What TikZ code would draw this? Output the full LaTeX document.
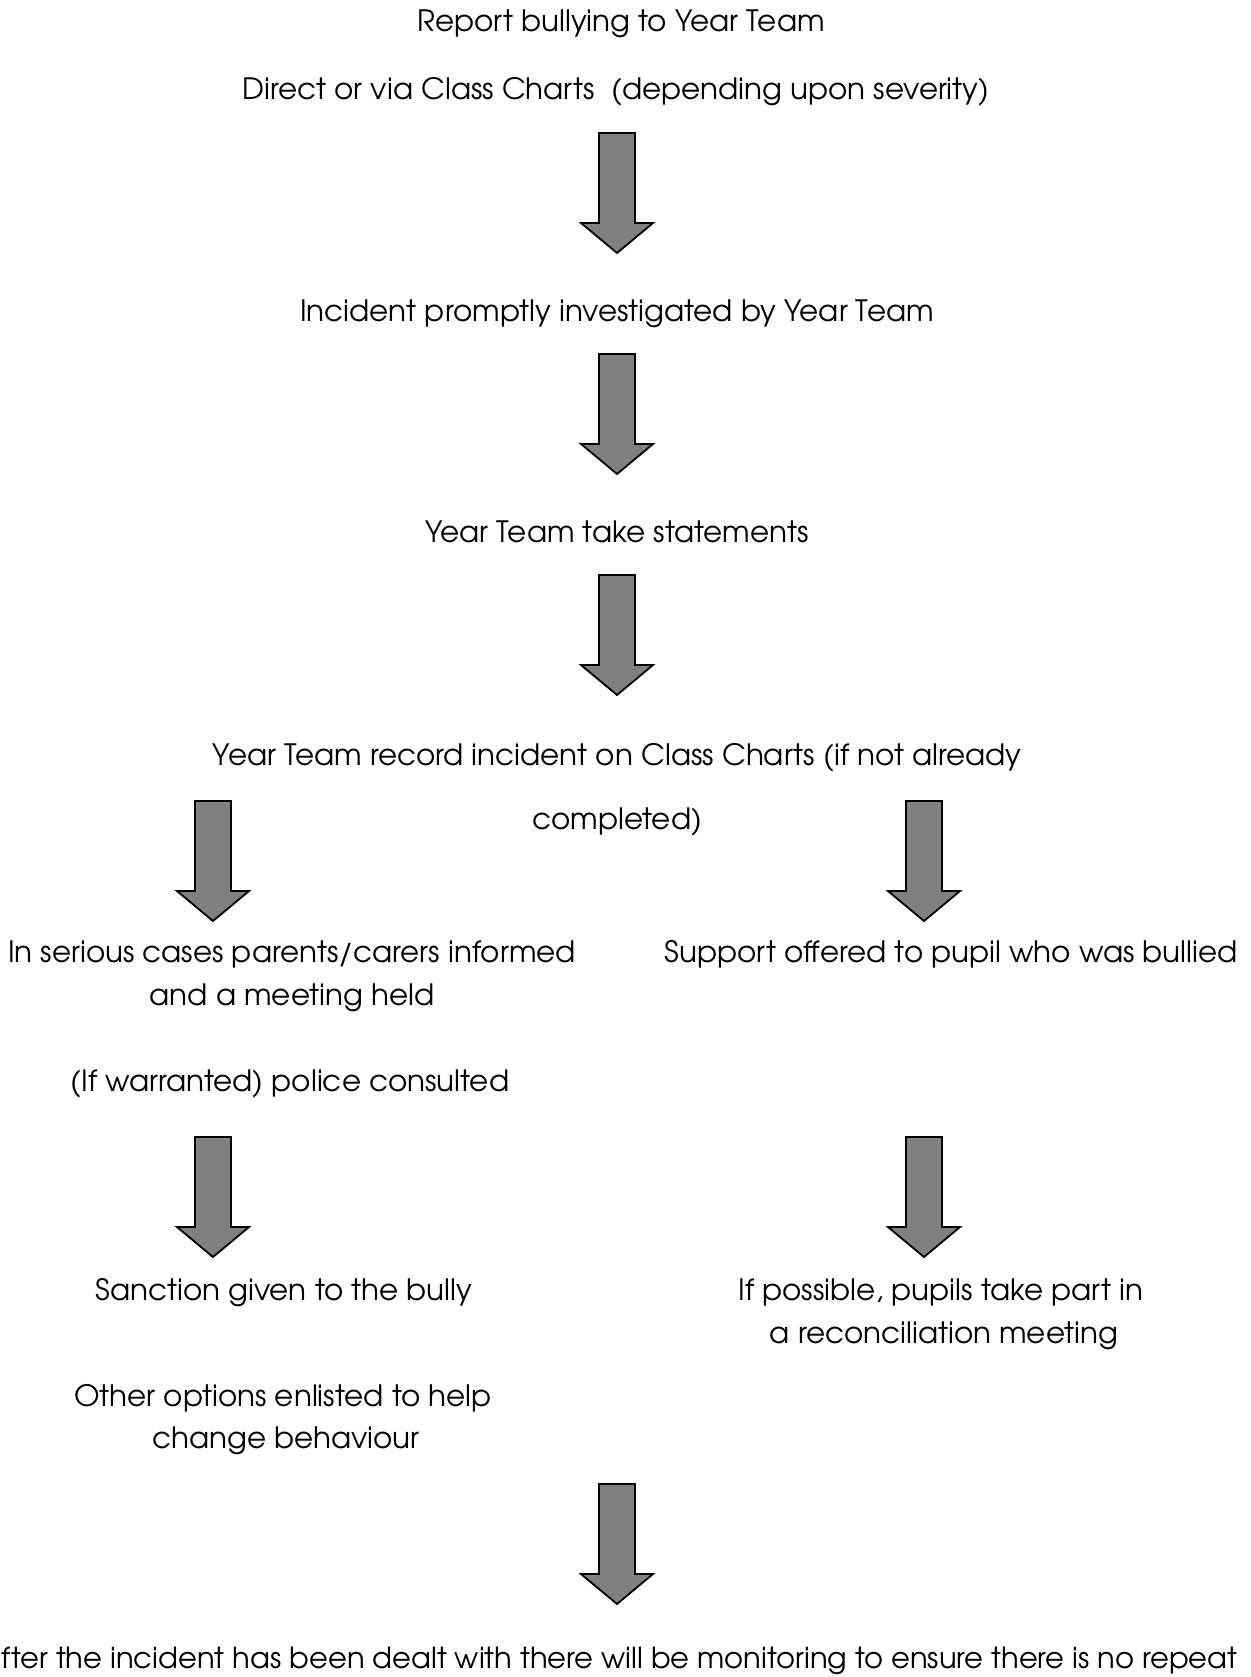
\documentclass[tikz,border=0pt]{standalone}
\usepackage{fontspec}
\setmainfont{TeX Gyre Adventor}
\begin{document}
\begin{tikzpicture}[x=1pt,y=-1pt,
  txt/.style={inner sep=0pt,font=\fontsize{29.4}{35}\selectfont,text height=0.75em,text depth=0.15em,yshift=-8pt},
  arrowfill/.style={fill=black!50,draw=black,line width=1.8pt,line join=miter},
  blockarrow/.pic={\draw[arrowfill] (-18,0) -- (18,0) -- (18,90) -- (36,90) -- (0,120) -- (-36,90) -- (-18,90) -- cycle;}]
\useasboundingbox (0,0) rectangle (1250,1677);
\fill[white] (0,0) rectangle (1250,1677);
% texts
\node[txt] (t1) at (621,21) {Report bullying to Year Team};
\node[txt] (t2) at (616,89) {Direct or via Class Charts\ \ (depending upon severity)};
\node[txt] (t3) at (617,310) {Incident promptly investigated by Year Team};
\node[txt] (t4) at (617,531) {Year Team take statements};
\node[txt] (t5) at (617,754) {Year Team record incident on Class Charts (if not already};
\node[txt] (t5b) at (617,818) {completed)};
\node[txt] (l1) at (292,951) {In serious cases parents/carers informed};
\node[txt] (l1b) at (292,994) {and a meeting held};
\node[txt] (l2) at (290,1080) {(If warranted) police consulted};
\node[txt] (r1) at (951,951) {Support offered to pupil who was bullied};
\node[txt] (l3) at (284,1289) {Sanction given to the bully};
\node[txt] (r2) at (941,1289) {If possible, pupils take part in};
\node[txt] (r2b) at (944,1332) {a reconciliation meeting};
\node[txt] (l4) at (283,1395) {Other options enlisted to help};
\node[txt] (l4b) at (286,1437) {change behaviour};
\node[txt,anchor=west,font=\fontsize{29}{35}\selectfont] (t6) at (1,1657) {fter the incident has been dealt with there will be monitoring to ensure there is no repeat};
% block arrows
\pic at (617,133) {blockarrow};
\pic at (617,354) {blockarrow};
\pic at (617,575) {blockarrow};
\pic at (213,801) {blockarrow};
\pic at (924,801) {blockarrow};
\pic at (213,1137) {blockarrow};
\pic at (924,1137) {blockarrow};
\pic at (617,1484) {blockarrow};
\end{tikzpicture}
\end{document}
